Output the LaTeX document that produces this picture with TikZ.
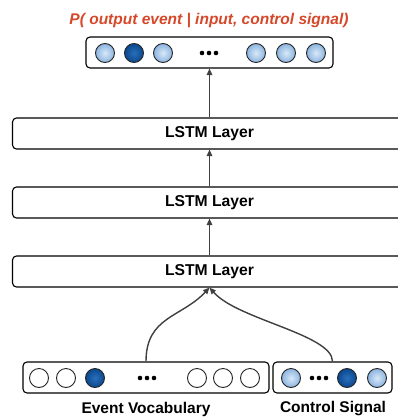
\documentclass[tikz,border=0pt]{standalone}
\usepackage{fontspec}
\setmainfont{Liberation Sans}
\usetikzlibrary{arrows.meta}
\definecolor{titlered}{RGB}{214,72,42}
\definecolor{lightin}{RGB}{216,232,247}
\definecolor{lightout}{RGB}{140,180,224}
\definecolor{darkin}{RGB}{42,110,186}
\definecolor{darkout}{RGB}{10,72,142}
\begin{document}
\begin{tikzpicture}[x=1pt,y=-1pt,
  box/.style={draw=black, line width=1.1pt, rounded corners=4pt, inner sep=0pt},
  lstm/.style={box, minimum width=394pt, minimum height=31pt, font=\bfseries\fontsize{15.7}{18}\selectfont},
  ball/.style={circle, draw=black!85, line width=0.9pt, minimum size=19pt, inner sep=0pt},
  lightball/.style={ball, inner color=lightin, outer color=lightout},
  darkball/.style={ball, inner color=darkin, outer color=darkout},
  emptyball/.style={ball, fill=white},
  dot/.style={circle, fill=black, minimum size=4.6pt, inner sep=0pt},
  arr/.style={draw=black!75, line width=1.4pt, -{Triangle[length=6.5pt,width=5.5pt]}},
  lbl/.style={font=\bfseries\fontsize{15.5}{18}\selectfont}]
\useasboundingbox (0,0) rectangle (398,418);
\clip (0,0) rectangle (398,418);
\fill[white] (0,0) rectangle (398,418);

% title
\node[text=titlered, font=\bfseries\itshape\fontsize{15.5}{18}\selectfont] (title) at (209,20) {P( output event | input, control signal)};

% output box
\node[box, minimum width=247pt, minimum height=31pt] (out) at (209.5,52.5) {};
\node[lightball] (o1) at (105,53) {};
\node[darkball] (o2) at (134,53) {};
\node[lightball] (o3) at (163,53) {};
\node[dot] (od1) at (202,53) {};
\node[dot] (od2) at (209,53) {};
\node[dot] (od3) at (216,53) {};
\node[lightball] (o4) at (256,53) {};
\node[lightball] (o5) at (286,53) {};
\node[lightball] (o6) at (316,53) {};

% LSTM layers
\node[lstm] (l1) at (209.5,133.5) {LSTM Layer};
\node[lstm] (l2) at (209.5,202.5) {LSTM Layer};
\node[lstm] (l3) at (209.5,271.5) {LSTM Layer};

% input boxes
\node[box, minimum width=246pt, minimum height=31pt] (ev) at (146,377.5) {};
\node[box, minimum width=119pt, minimum height=31pt] (cs) at (332.5,377.5) {};

\node[emptyball] (e1) at (39,378) {};
\node[emptyball] (e2) at (66,378) {};
\node[darkball] (e3) at (95,378) {};
\node[dot] (ed1) at (140,378) {};
\node[dot] (ed2) at (147,378) {};
\node[dot] (ed3) at (154,378) {};
\node[emptyball] (e4) at (197,378) {};
\node[emptyball] (e5) at (223,378) {};
\node[emptyball] (e6) at (250,378) {};

\node[lightball] (c1) at (291,378) {};
\node[dot] (cd1) at (312,378) {};
\node[dot] (cd2) at (319,378) {};
\node[dot] (cd3) at (326,378) {};
\node[darkball] (c2) at (347,378) {};
\node[lightball] (c3) at (377,378) {};

\node[lbl] (evl) at (146,409) {Event Vocabulary};
\node[lbl] (csl) at (333,409) {Control Signal};

% connectors
\draw[arr] (l3.north) -- (l2.south);
\draw[arr] (l2.north) -- (l1.south);
\draw[arr] (l1.north) -- (out.south);
\draw[arr] (ev.north) .. controls +(0,-45) and +(-28,30) .. (l3.south);
\draw[arr] (cs.north) .. controls +(0,-27) and +(28,32) .. (l3.south);
\end{tikzpicture}
\end{document}
